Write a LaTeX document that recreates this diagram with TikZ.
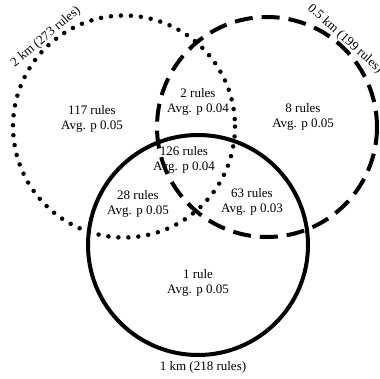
\documentclass[tikz,border=0pt]{standalone}
\usepackage{fontspec}
\setmainfont{Liberation Serif}
\begin{document}
\begin{tikzpicture}[x=1pt,y=-1pt,
  lbl/.style={align=center,font=\fontsize{13}{15}\selectfont,inner sep=0pt},
  dotc/.style={line width=4.5pt,line cap=round,dash pattern=on 0pt off 10pt},
  dashc/.style={line width=4pt,dash pattern=on 18pt off 9pt},
  solidc/.style={line width=4pt}]
\useasboundingbox (0,0) rectangle (380,378);
\clip (0,0) rectangle (380,378);
\coordinate (cdot) at (124,126.5);
\coordinate (cdash) at (267,127);
\coordinate (csol) at (198,245);
\draw[solidc] (csol) circle[radius=110];
\draw[dashc] (cdash) circle[radius=110];
\draw[dotc] (cdot) circle[radius=111];
\node[lbl] (a) at (92,119) {117 rules\\Avg. p 0.05};
\node[lbl] (b) at (198,102) {2 rules\\Avg. p 0.04};
\node[lbl] (c) at (303,117) {8 rules\\Avg. p 0.05};
\node[lbl] (d) at (184,160) {126 rules\\Avg. p 0.04};
\node[lbl] (e) at (138,204) {28 rules\\Avg. p 0.05};
\node[lbl] (f) at (252,202) {63 rules\\Avg. p 0.03};
\node[lbl] (g) at (198,283) {1 rule\\Avg. p 0.05};
\node[lbl,rotate=40] (h) at (46,37) {2 km (273 rules)};
\node[lbl,rotate=-42] (i) at (345,39) {0.5 km (199 rules)};
\node[lbl] (j) at (203,367) {1 km (218 rules)};
\end{tikzpicture}
\end{document}
